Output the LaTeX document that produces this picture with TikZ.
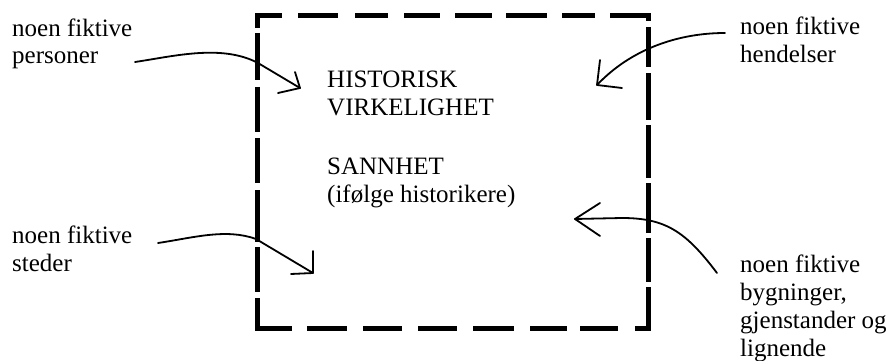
\documentclass[tikz,border=0pt]{standalone}
\usepackage{fontspec}
\setmainfont{Liberation Serif}
\begin{document}
\begin{tikzpicture}[x=1pt,y=-1pt,
  lbl/.style={anchor=base west,align=left,inner sep=0pt,font=\fontsize{25}{28}\selectfont},
  frame/.style={line width=5pt,line cap=butt,miter limit=10},
  hand/.style={line width=1.8pt,line cap=round,line join=round}]
\useasboundingbox (0,0) rectangle (895,361);
% labels (base anchor = baseline of the last line)
\node[lbl] (tl) at (12,64) {noen fiktive\\personer};
\node[lbl] (tr) at (740,63) {noen fiktive\\hendelser};
\node[lbl] (bl) at (12,271) {noen fiktive\\steder};
\node[lbl] (br) at (740,356) {noen fiktive\\bygninger,\\gjenstander og\\lignende};
\node[lbl] (c1) at (327,115) {HISTORISK\\VIRKELIGHET};
\node[lbl] (c2) at (327,202) {SANNHET\\(ifølge historikere)};
% dashed frame
\draw[frame] (282,16) -- (257,16) -- (257,28);
\foreach \a/\b in {298/338,355/388,404/440,455/492,506/547,562/595}
  \draw[frame] (\a,16) -- (\b,16);
\draw[frame] (610,16) -- (648,16) -- (648,21);
\foreach \a/\b in {33/80,87/132,138/183,190/242,247/292}
  \draw[frame] (257,\a) -- (257,\b);
\draw[frame] (257,298) -- (257,328) -- (292,328);
\foreach \a/\b in {307/347,363/402,418/457,473/514,530/567,580/618}
  \draw[frame] (\a,328) -- (\b,328);
\draw[frame] (635,328) -- (648,328) -- (648,287);
\foreach \a/\b in {27/67,73/120,125/178,183/233,238/282}
  \draw[frame] (648,\a) -- (648,\b);
% arrows
\coordinate (s1) at (135,62); \coordinate (t1) at (300,88);
\draw[hand] (s1) .. controls (175,56) and (222,44) .. (258,63) -- (t1);
\draw[hand] (295,72) -- (t1) -- (278,93);
\coordinate (s2) at (725,33); \coordinate (t2) at (597,85);
\draw[hand] (s2) .. controls (680,33) and (632,48) .. (t2);
\draw[hand] (600,60) -- (t2) -- (622,88);
\coordinate (s3) at (158,243); \coordinate (t3) at (313,273);
\draw[hand] (s3) .. controls (192,238) and (226,228) .. (256,239) -- (t3);
\draw[hand] (313,251) -- (t3) -- (291,274);
\coordinate (s4) at (717,273); \coordinate (t4) at (575,219);
\draw[hand] (s4) .. controls (686,232) and (666,218) .. (622,218) -- (t4);
\draw[hand] (600,203) -- (t4) -- (600,236);
\end{tikzpicture}
\end{document}
